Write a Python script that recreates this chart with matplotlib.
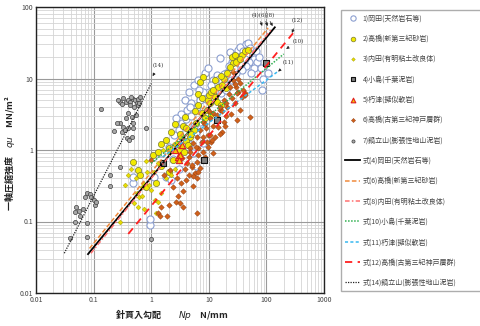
import matplotlib
matplotlib.use("Agg")
import matplotlib.pyplot as plt

plt.rcParams['font.family'] = ['Noto Sans CJK JP', 'DejaVu Sans']

# 1) 岡田(天然岩石等)
np1 = [15.6, 23, 25, 28, 32, 35, 40, 45, 48, 52, 58, 62, 66, 70, 75, 60, 55, 80, 88, 107, 85,
       50, 44, 38, 30, 27, 33, 42, 36, 22, 20,
       13.8, 15, 17, 12, 19, 11, 14, 10, 8, 7.1, 6.2, 9, 12, 16, 20, 24, 18,
       4.2, 3.4, 4.0, 5.0, 5.5, 4.2, 6.0, 7.0, 3.0, 2.5, 5.3, 4.5,
       1.07, 1.5, 2.0, 2.4, 1.8, 2.2, 3.0, 0.48, 0.49, 0.95, 0.97, 1.1, 7.9, 6.0,
       3.8, 4.5, 5.5, 6.5, 5.0, 3.3, 2.7, 8.5, 9.5, 4.8, 6.8]
qu1 = [19.4, 23.6, 17, 21, 25, 28, 24, 30, 31, 27, 22, 19, 24, 17, 20, 14, 12, 14, 10, 12, 7,
       17, 15, 13, 12, 14, 18, 19, 16, 15, 12,
       11.2, 10, 9, 9.5, 8.2, 8, 7, 6.5, 6.5, 5.0, 4.0, 5.2, 5.5, 6.3, 6.8, 9.5, 11.5,
       3.6, 2.4, 2.7, 3.0, 2.2, 1.5, 1.8, 2.5, 1.9, 1.6, 0.9, 1.2,
       0.8, 0.9, 1.1, 0.75, 0.42, 0.38, 0.55, 0.35, 0.42, 0.09, 0.11, 0.42, 1.25, 0.6,
       5.0, 6.5, 8.0, 9.5, 4.5, 3.2, 2.8, 12, 14, 4.0, 7.0]

# 2) 高橋(新第三紀砂岩)
np2 = [25, 28, 32, 37, 42, 48, 26, 23, 30, 35,
       8, 7.1, 13, 14.6, 17, 20, 12, 13, 9.8, 10.5, 13.8, 16, 9.3, 11, 8.6, 7.5, 10, 11, 12, 6.5,
       3.8, 3.5, 4.0, 3.1, 4.7, 4.0, 4.4, 3.1, 2.8, 3.7, 2.4, 1.07, 0.48, 0.59, 0.65, 1.5, 2.0,
       1.2, 0.8, 5.5, 6.0, 5.0,
       1.8, 2.2, 2.6, 1.5, 1.3, 2.0, 5.8, 6.5, 7.5, 18, 21, 16]
qu2 = [20, 21, 18, 21, 24, 25, 16.5, 14.7, 17, 19,
       10.5, 8.9, 9.6, 7.6, 8, 7.3, 6.2, 5.6, 5.0, 4.5, 4.7, 4.2, 3.6, 3.2, 2.8, 3.3, 5.9, 6.5, 7.0, 6.0,
       2.9, 2.2, 2.0, 1.7, 1.5, 1.35, 1.17, 1.0, 1.2, 0.95, 0.72, 0.85, 0.68, 0.52, 0.45, 0.6, 0.5,
       0.35, 0.3, 1.9, 2.4, 1.7,
       1.4, 1.8, 2.3, 1.2, 0.95, 1.05, 3.5, 4.2, 5.3, 10, 12, 11]

# 3) 内田(有明粘土改良体)
np3 = [0.29, 0.4, 0.56, 0.62, 0.7, 0.72, 0.69, 0.9, 1.0, 1.16, 1.3, 1.5, 1.1, 0.85, 0.55,
       0.35, 0.45, 0.8, 1.3, 1.8, 2.2, 2.6, 2.0, 1.6, 0.6, 0.75, 1.2, 2.5, 3.2, 0.5]
qu3 = [0.1, 0.45, 0.25, 0.22, 0.3, 0.35, 0.23, 0.32, 0.28, 0.2, 0.19, 0.25, 0.5, 0.5, 0.4,
       0.32, 0.55, 0.7, 0.65, 0.4, 0.45, 0.55, 0.9, 1.0, 0.16, 0.15, 0.13, 1.2, 1.5, 0.18]

# 4) 小島(千葉泥岩)
np4 = [1.6, 8.3, 13.9, 98]
qu4 = [0.66, 0.73, 2.6, 16.5]

# 5) 朽津(擬似軟岩)
np5 = [2.9, 3.1, 3.4, 2.6, 3.0]
qu5 = [0.8, 0.85, 1.17, 1.0, 0.72]

# 6) 高橋(古第三紀神戸層群)
np6 = [26, 26, 32, 35, 30, 42, 42, 32, 25, 22, 21, 15.6, 24, 35, 31, 52, 28, 31, 37, 40,
       14.6, 17, 13, 11, 9.8, 8, 12, 15.6, 13.8, 10.4, 12, 7.9, 9, 7, 9.5, 15.6, 11.5, 6.2,
       7.5, 5.3, 6.5, 4.7, 8.5, 6.5, 4.5, 3.4, 4.2, 5.2, 5.7, 6.5, 7, 2.1, 1.7, 1.0, 2.8, 3.3,
       1.3, 1.9, 1.5, 2.0, 2.7, 3.5, 6.2, 2.9, 3.5, 5.3, 6.2, 5.3, 4.5, 5.2, 6.2, 1.4, 3.1,
       8, 18, 20,
       18, 20, 17, 23, 28, 10, 12, 14, 19, 8.5, 9.2, 10.5, 6.0, 4.8, 3.8, 4.1, 2.4]
qu6 = [12.3, 9.5, 10, 8.6, 7.5, 6.3, 5.8, 6.5, 5.4, 6, 4, 3.6, 3.2, 3.6, 2.6, 2.9, 4.5, 6.3, 5.5, 7,
       2.1, 1.8, 1.5, 1.3, 1.1, 0.95, 0.9, 4, 3.1, 2.8, 2.2, 2.5, 2.0, 1.9, 1.6, 1.7, 1.4, 1.5,
       1.3, 1.25, 1.05, 1.07, 0.8, 0.85, 0.8, 0.77, 0.66, 0.58, 0.48, 0.5, 0.56, 0.52, 0.45, 0.72, 0.4, 0.35,
       0.13, 0.12, 0.16, 0.17, 0.19, 0.16, 0.13, 0.23, 0.27, 0.31, 0.41, 0.43, 0.45, 0.62, 0.68, 0.12, 0.18,
       1.5, 2.5, 3,
       5.0, 4.5, 3.5, 7.5, 8.5, 3.5, 3.3, 2.6, 2.2, 2.3, 1.3, 1.6, 1.1, 0.95, 0.55, 0.38, 0.3]

# 7) 鍋立山(膨張性地山泥岩)
np7 = [0.29, 0.31, 0.36, 0.39, 0.43, 0.48, 0.53, 0.59, 0.64, 0.27, 0.33, 0.45, 0.56, 0.43, 0.5,
       0.59, 0.62, 0.4, 0.46, 0.55, 0.36, 0.48, 0.29, 0.25, 0.32, 0.4, 0.48, 0.23, 0.31, 0.46,
       0.38, 0.42, 0.35, 0.8, 0.135, 0.29, 0.19, 0.19, 0.077, 0.085, 0.09, 0.07, 0.106, 0.05,
       0.048, 0.055, 0.058, 0.048, 0.077, 0.039, 0.077, 1.0, 0.1, 0.11, 0.065]
qu7 = [4.7, 4.4, 4.7, 5.0, 4.7, 5.2, 5.0, 5.2, 5.5, 5.0, 5.3, 5.5, 4.6, 4.2, 4.0,
       4.3, 4.6, 3.3, 2.9, 3.1, 2.8, 2.4, 2.4, 2.4, 2.1, 2.0, 2.0, 1.85, 1.78, 1.5,
       1.47, 1.4, 1.9, 2.0, 3.7, 0.58, 0.44, 0.31, 0.25, 0.24, 0.22, 0.22, 0.17, 0.16,
       0.136, 0.14, 0.12, 0.1, 0.095, 0.059, 0.06, 0.057, 0.2, 0.19, 0.15]

# 回帰式の端点 (Np, qu)
eq4_np, eq4_qu = [0.08, 140], [0.035, 52]
eq6_np, eq6_qu = [0.085, 107], [0.042, 51]
eq8_np, eq8_qu = [0.09, 120], [0.036, 48]
eq10_np, eq10_qu = [1.0, 200], [0.65, 22]
eq11_np, eq11_qu = [1.6, 153], [0.8, 12.3]
eq12_np, eq12_qu = [0.40, 290], [0.067, 43]
eq14_np, eq14_qu = [0.031, 1.0], [0.036, 8.5]

fig = plt.figure(figsize=(4.8, 3.26), dpi=100)
ax = fig.add_axes([36/480, 1-293/326, 288/480, 286/326])

ax.scatter(np1, qu1, s=26, marker='o', facecolor='white', edgecolor='#8c9fd0', linewidth=0.8,
           label='1)岡田(天然岩石等)', zorder=3)
ax.scatter(np2, qu2, s=20, marker='o', facecolor='#f2ea00', edgecolor='#7a7a30', linewidth=0.5,
           label='2)高橋(新第三紀砂岩)', zorder=3)
ax.scatter(np3, qu3, s=6, marker='D', facecolor='#e8dc00', edgecolor='#a09a00', linewidth=0.3,
           label='3)内田(有明粘土改良体)', zorder=3)
ax.scatter(np4, qu4, s=18, marker='s', facecolor='#808080', edgecolor='#111111', linewidth=0.8,
           label='4)小島(千葉泥岩)', zorder=4)
ax.scatter(np5, qu5, s=20, marker='^', facecolor='#f4c400', edgecolor='#e02020', linewidth=0.8,
           label='5)朽津(擬似軟岩)', zorder=4)
ax.scatter(np6, qu6, s=8, marker='D', facecolor='#d0601a', edgecolor='#8a3a10', linewidth=0.3,
           label='6)高橋(古第三紀神戸層群)', zorder=3)
ax.scatter(np7, qu7, s=9, marker='o', facecolor='#a8a8a8', edgecolor='#404040', linewidth=0.5,
           label='7)鍋立山(膨張性地山泥岩)', zorder=3)

ax.plot(eq4_np, eq4_qu, color='black', lw=1.3, label='式(4)岡田(天然岩石等)', zorder=5)
ax.plot(eq6_np, eq6_qu, color='#f08a3c', lw=1.1, dashes=(3, 1.5), label='式(6)高橋(新第三紀砂岩)', zorder=5)
ax.plot(eq8_np, eq8_qu, color='#ff7070', lw=1.1, dashes=(3, 1.5, 1, 1.5), label='式(8)内田(有明粘土改良体)', zorder=5)
ax.plot(eq10_np, eq10_qu, color='#30b050', lw=1.1, dashes=(1, 1), label='式(10)小島(千葉泥岩)', zorder=5)
ax.plot(eq11_np, eq11_qu, color='#38b8f0', lw=1.1, dashes=(2, 1.5), label='式(11)朽津(擬似軟岩)', zorder=5)
ax.plot(eq12_np, eq12_qu, color='#ff2020', lw=1.3, dashes=(4, 3), label='式(12)高橋(古第三紀神戸層群)', zorder=5)
ax.plot(eq14_np, eq14_qu, color='#222222', lw=0.9, dashes=(1, 1), label='式(14)鍋立山(膨張性地山泥岩)', zorder=5)

ax.set_xscale('log')
ax.set_yscale('log')
ax.set_xlim(0.01, 1000)
ax.set_ylim(0.01, 100)
ax.set_xticks([0.01, 0.1, 1, 10, 100, 1000])
ax.set_xticklabels(['0.01', '0.1', '1', '10', '100', '1000'])
ax.set_yticks([0.01, 0.1, 1, 10, 100])
ax.set_yticklabels(['0.01', '0.1', '1', '10', '100'])
ax.grid(True, which='major', color='#9a9a9a', lw=0.8)
ax.grid(True, which='minor', color='#d4d4d4', lw=0.6)
ax.set_axisbelow(True)
ax.tick_params(which='both', length=0, labelsize=5, colors='#444444', pad=2)
for sp in ax.spines.values():
    sp.set_linewidth(1.0)
    sp.set_color('#222222')

# 回帰式番号の注記
ann = dict(fontsize=4, color='#333333', family='DejaVu Serif')
arw = dict(arrowstyle='-|>', color='#222222', lw=0.5, mutation_scale=4)
ax.annotate('(4)(6)(8)', xy=(85, 52), xytext=(87, 77), ha='center', va='center', **ann)
ax.annotate('', xy=(88, 50), xytext=(76, 68), arrowprops=arw)
ax.annotate('', xy=(110, 50), xytext=(93, 68), arrowprops=arw)
ax.annotate('', xy=(135, 50), xytext=(110, 68), arrowprops=arw)
ax.annotate('(12)', xy=(265, 40), xytext=(340, 64), ha='center', va='center',
            arrowprops=arw, **ann)
ax.annotate('(10)', xy=(220, 26), xytext=(354, 33), ha='center', va='center',
            arrowprops=arw, **ann)
ax.annotate('(11)', xy=(160, 12.5), xytext=(237, 16.5), ha='center', va='center',
            arrowprops=arw, **ann)
ax.annotate('(14)', xy=(1.0, 10), xytext=(1.35, 15), ha='center', va='center',
            arrowprops=arw, **ann)

fig.text(10/480, 1-153/326, '一軸圧縮強度　$qu$　MN/m²', rotation=90, ha='center', va='center',
         fontsize=6.5, fontweight='bold', color='#222222')
fig.text(115/480, 1-314/326, '針貫入勾配　　$Np$　N/mm', ha='left', va='center',
         fontsize=6.5, fontweight='bold', color='#222222')

leg = ax.legend(loc='upper left', bbox_to_anchor=(341/480, 1-289/326, 142/480, 279/326),
                bbox_transform=fig.transFigure, mode='expand',
                fontsize=5, frameon=True, fancybox=False, edgecolor='#999999', labelspacing=1.78,
                handlelength=2.2, handletextpad=0.3, borderpad=0.6, borderaxespad=0,
                markerscale=0.75, labelcolor='#444444')
leg.get_frame().set_linewidth(1.0)

fig.savefig('out.png', dpi=100)
